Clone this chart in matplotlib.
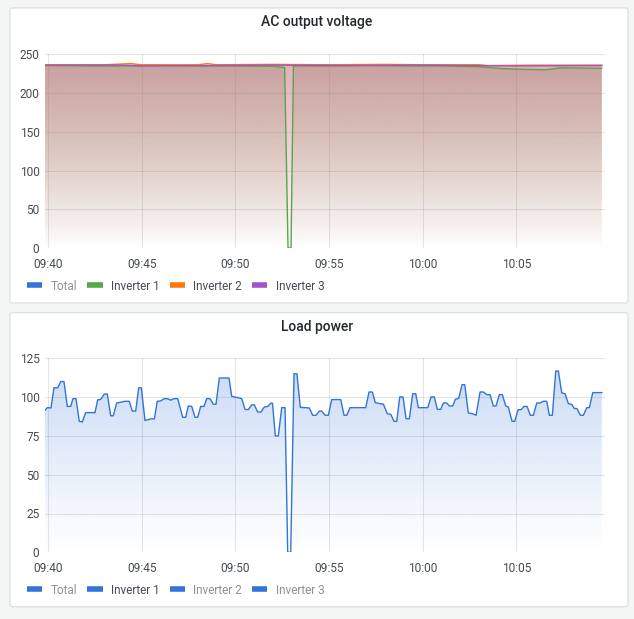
import numpy as np
import pandas as pd
import matplotlib
matplotlib.use('Agg')
import matplotlib.pyplot as plt
import matplotlib.dates as mdates
import matplotlib.colors as mcolors
from matplotlib.patches import FancyBboxPatch, PathPatch
from matplotlib.lines import Line2D

plt.rcParams['font.family'] = ['Roboto', 'DejaVu Sans']

# ---------------- data ----------------
BASE = pd.Timestamp('2024-01-01 09:40:00')
range_start_min = -0.17
range_end_min = 29.74

legend_labels = ['Total', 'Inverter 1', 'Inverter 2', 'Inverter 3']

# AC output voltage (minutes after 09:40, volts)
inv1_min = [-0.17, 2.0, 4.0, 6.0, 8.0, 10.0, 12.0, 12.63, 12.81, 12.97, 13.10, 15.0, 17.0,
            19.0, 21.0, 23.0, 24.3, 25.5, 26.6, 27.3, 29.57]
inv1_volt = [235.5, 235.0, 235.0, 235.5, 235.0, 235.0, 234.5, 233.0, 0.0, 0.0, 235.0, 235.0, 235.5,
             235.0, 235.0, 234.0, 231.5, 230.5, 230.0, 232.5, 232.0]

inv2_min = [-0.17, 3.0, 4.4, 5.0, 8.0, 8.5, 9.0, 12.0, 15.0, 18.0, 20.0, 23.0, 23.5, 26.0, 29.57]
inv2_volt = [236.5, 236.5, 238.0, 236.5, 236.5, 238.0, 236.5, 237.0, 236.5, 237.0, 236.5,
             236.5, 235.5, 236.0, 236.0]

inv3_min = [-0.17, 4.0, 5.0, 9.0, 12.0, 16.0, 20.0, 22.0, 25.0, 29.57]
inv3_volt = [236.0, 236.0, 235.0, 235.5, 236.0, 235.5, 236.0, 235.5, 235.0, 235.5]

# Load power (minutes after 09:40, watts)
load_min = [-0.171, -0.048, 0.150, 0.310, 0.507, 0.668, 0.844, 1.020, 1.202, 1.325, 1.485,
            1.661, 1.822, 2.003, 2.500, 2.644, 2.804, 2.997, 3.157, 3.339, 3.478, 3.659,
            3.926, 4.103, 4.332, 4.493, 4.674, 4.834, 4.973, 5.171, 5.347, 5.491, 5.668,
            5.828, 6.010, 6.186, 6.362, 6.544, 6.720, 6.918, 7.185, 7.345, 7.484, 7.666,
            7.842, 7.986, 8.146, 8.323, 8.467, 8.643, 8.820, 8.964, 9.140, 9.658, 9.802,
            9.979, 10.155, 10.337, 10.513, 10.689, 10.871, 11.010, 11.191, 11.368, 11.544,
            11.726, 11.902, 11.982, 12.131, 12.292, 12.473, 12.650, 12.794, 12.954, 13.130,
            13.285, 13.467, 13.948, 14.129, 14.306, 14.482, 14.610, 14.786, 14.963, 15.144,
            15.625, 15.801, 15.946, 16.122, 16.960, 17.137, 17.313, 17.473, 17.724, 17.901,
            18.114, 18.296, 18.472, 18.617, 18.777, 18.953, 19.113, 19.290, 19.471, 19.631,
            19.770, 20.272, 20.449, 20.625, 20.785, 20.967, 21.106, 21.287, 21.426, 21.608,
            21.747, 21.928, 22.105, 22.249, 22.441, 22.639, 22.853, 23.066, 23.243, 23.424,
            23.600, 23.777, 23.921, 24.097, 24.257, 24.439, 24.578, 24.776, 24.920, 25.096,
            25.256, 25.417, 25.577, 25.753, 25.913, 26.095, 26.271, 26.448, 26.629, 26.768,
            26.928, 27.110, 27.249, 27.430, 27.607, 27.783, 27.965, 28.104, 28.248, 28.424,
            28.585, 28.766, 28.905, 29.087, 29.568]
load_w = [91.5, 93.2, 93.0, 106.0, 106.0, 110.0, 110.0, 94.0, 94.0, 99.0, 99.0,
          84.4, 84.0, 90.0, 90.0, 98.2, 98.5, 102.0, 102.0, 88.0, 88.0, 96.2,
          96.8, 97.3, 97.3, 91.0, 91.0, 106.0, 106.0, 85.0, 85.5, 86.0, 86.0,
          97.3, 97.5, 99.0, 99.0, 98.0, 99.0, 99.0, 87.0, 87.0, 94.3, 94.0,
          87.0, 87.0, 94.0, 94.0, 99.0, 99.0, 95.4, 95.4, 112.3, 112.3, 100.5,
          100.0, 99.6, 99.0, 92.0, 92.0, 95.0, 95.0, 90.4, 90.4, 93.6,
          94.0, 96.2, 96.0, 75.0, 75.0, 93.2, 93.2, 0.0, 0.0, 115.0,
          115.0, 93.4, 93.0, 88.3, 88.3, 91.0, 91.0, 88.3, 88.3, 98.4,
          98.4, 88.3, 88.3, 93.2, 93.2, 103.3, 103.3, 96.4, 95.8, 95.5,
          89.3, 88.9, 84.4, 84.4, 100.1, 100.1, 86.1, 86.1, 102.2, 102.2,
          93.2, 93.2, 100.1, 100.1, 92.1, 92.1, 96.2, 96.2, 94.3, 94.3,
          98.6, 99.2, 108.0, 108.0, 89.8, 89.4, 88.3, 103.3, 103.3, 101.6,
          101.6, 94.3, 94.3, 101.6, 101.6, 94.3, 93.6, 84.4, 84.4, 91.9,
          91.9, 94.0, 94.0, 88.3, 88.3, 96.2, 96.2, 97.3, 97.3, 88.3,
          88.3, 116.8, 116.8, 102.7, 102.2, 95.8, 95.3, 92.6, 92.6, 88.3,
          88.3, 93.2, 93.2, 102.9, 102.9]

# ---------------- style ----------------
C_BLUE = '#3274D9'
C_GREEN = '#56A64B'
C_ORANGE = '#FF780A'
C_PURPLE = '#A352CC'
TXT_DARK = '#464C54'
TXT_HIDDEN = '#8E9196'


def to_dates(mins):
    return mdates.date2num(BASE + pd.to_timedelta(np.asarray(mins, dtype=float), unit='min'))


def gradient_fill(ax, x, y, color, alpha0, zorder):
    poly = ax.fill_between(x, y, 0, facecolor='none', edgecolor='none')
    path = poly.get_paths()[0]
    poly.remove()
    patch = PathPatch(path, transform=ax.transData, facecolor='none', edgecolor='none')
    ax.add_patch(patch)
    ymax = float(np.max(y))
    n = 256
    rgba = np.zeros((n, 1, 4))
    rgba[:, 0, :3] = mcolors.to_rgb(color)
    rgba[:, 0, 3] = np.linspace(0, alpha0, n)
    im = ax.imshow(rgba, extent=[x[0], x[-1], 0, ymax], origin='lower', aspect='auto',
                   zorder=zorder, interpolation='bilinear')
    im.set_clip_path(patch)


W, H = 634, 619
fig = plt.figure(figsize=(W / 100, H / 100), dpi=100)
fig.patch.set_facecolor('#F4F5F5')

# panels
for (top, bottom) in [(8, 303), (312.7, 606.7)]:
    p = FancyBboxPatch((10 / W, 1 - bottom / H), 618 / W, (bottom - top) / H,
                       boxstyle='round,pad=0,rounding_size=0.004',
                       transform=fig.transFigure, facecolor='white',
                       edgecolor='#DCDEE1', linewidth=0.9, zorder=-10)
    fig.patches.append(p)

fig.text(317 / W, 1 - 22 / H, 'AC output voltage', ha='center', va='center',
         fontsize=10, fontweight='medium', color='#24292E')
fig.text(317 / W, 1 - 327 / H, 'Load power', ha='center', va='center',
         fontsize=10, fontweight='medium', color='#24292E')

ax_left = 45 / W
ax_w = (605 - 45) / W
ax1 = fig.add_axes([ax_left, 1 - 248 / H, ax_w, (248 - 54.3) / H])
ax2 = fig.add_axes([ax_left, 1 - 552.3 / H, ax_w, (552.3 - 358.3) / H])

xlim = (to_dates([range_start_min])[0], to_dates([range_end_min])[0])

# --- voltage panel ---
series = [(inv1_min, inv1_volt, C_GREEN), (inv2_min, inv2_volt, C_ORANGE),
          (inv3_min, inv3_volt, C_PURPLE)]
for i, (m, v, c) in enumerate(series):
    x = to_dates(m)
    gradient_fill(ax1, x, np.asarray(v), c, 0.30, 1 + i)
for i, (m, v, c) in enumerate(series):
    ax1.plot(to_dates(m), v, color=c, lw=1.0, zorder=5 + i)
ax1.set_ylim(0, 250)
ax1.set_yticks([0, 50, 100, 150, 200, 250])

# --- load panel ---
xl = to_dates(load_min)
gradient_fill(ax2, xl, np.asarray(load_w), C_BLUE, 0.25, 1)
ax2.plot(xl, load_w, color=C_BLUE, lw=1.0, zorder=5)
ax2.set_ylim(0, 125)
ax2.set_yticks([0, 25, 50, 75, 100, 125])

for ax in (ax1, ax2):
    ax.set_xlim(*xlim)
    ax.set_facecolor('none')
    ax.set_zorder(1)
    ax.xaxis.set_major_locator(mdates.MinuteLocator(byminute=range(0, 60, 5)))
    ax.xaxis.set_major_formatter(mdates.DateFormatter('%H:%M'))
    for s in ax.spines.values():
        s.set_visible(False)
    ax.grid(True, color='black', alpha=0.10, lw=0.8)
    ax.set_axisbelow(True)
    ax.tick_params(axis='both', length=0, labelsize=8.6, labelcolor=TXT_DARK)
    ax.tick_params(axis='x', pad=7)
    ax.tick_params(axis='y', pad=4)


def add_legend(ax, colors, text_colors, ycenter):
    handles = [Line2D([], [], color=c, lw=4, solid_capstyle='butt') for c in colors]
    leg = ax.legend(handles, legend_labels, loc='center left',
                    bbox_to_anchor=(27 / W, 1 - ycenter / H), bbox_transform=fig.transFigure,
                    ncol=4, frameon=False, fontsize=8.5, handlelength=1.3,
                    handletextpad=0.7, columnspacing=0.85, borderpad=0, borderaxespad=0)
    for t, tc in zip(leg.get_texts(), text_colors):
        t.set_color(tc)


add_legend(ax1, [C_BLUE, C_GREEN, C_ORANGE, C_PURPLE],
           [TXT_HIDDEN, TXT_DARK, TXT_DARK, TXT_DARK], 286)
add_legend(ax2, [C_BLUE, C_BLUE, C_BLUE, C_BLUE],
           [TXT_HIDDEN, TXT_DARK, TXT_HIDDEN, TXT_HIDDEN], 590)

fig.savefig('out.png', dpi=100)
